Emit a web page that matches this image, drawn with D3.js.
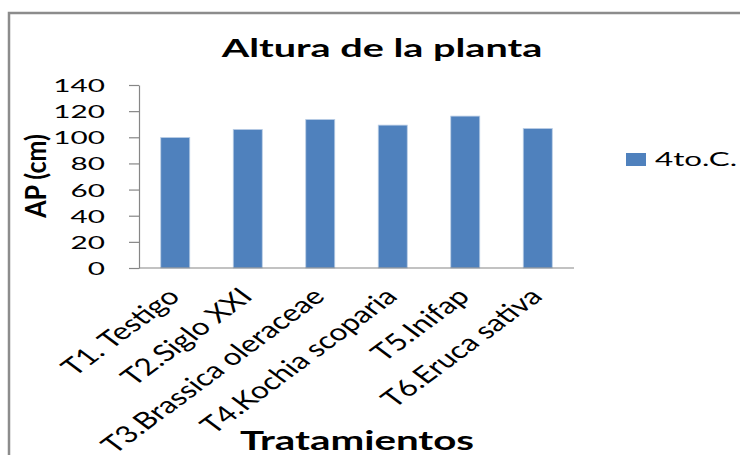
<!DOCTYPE html>
<html>
<head>
<meta charset="utf-8">
<script src="https://cdn.jsdelivr.net/npm/d3@7/dist/d3.min.js"></script>
<style>
  html, body { margin: 0; padding: 0; background: #fff; }
  text { font-family: Lato, "Open Sans", sans-serif; fill: #000; }
</style>
</head>
<body>
<svg id="chart" width="740" height="455"></svg>
<script>
// Plant height by treatment
const categories = ["T1. Testigo", "T2.Siglo XXI", "T3.Brassica oleraceae", "T4.Kochia scoparia", "T5.Inifap", "T6.Eruca sativa"];
const seriesName = "4to.C.";
const values = [99.8, 106, 113.6, 109.3, 116.2, 106.7];
const yTicks = [0, 20, 40, 60, 80, 100, 120, 140];

const W = 740, H = 455;
const SX = 1.65;              // horizontal text stretch
const SX_CAT = 1.35;          // stretch for the slanted category labels
const plot = { left: 139, right: 574, top: 85, bottom: 268 };
const barColor = "#4F81BD";
const axisColor = "#868686";

const svg = d3.select("#chart");

// chart frame (only left and top edges fall inside the view)
svg.append("rect")
  .attr("x", 9).attr("y", 13)
  .attr("width", W + 20).attr("height", H + 20)
  .attr("fill", "#fff")
  .attr("stroke", "#8c8c8c").attr("stroke-width", 2.5);

const x = d3.scaleBand()
  .domain(categories)
  .range([plot.left, plot.right])
  .paddingInner(0.6)
  .paddingOuter(0.3);

const y = d3.scaleLinear()
  .domain([0, 140])
  .range([plot.bottom, plot.top]);

// bars
svg.append("g").selectAll("rect")
  .data(values)
  .join("rect")
  .attr("x", (d, i) => x(categories[i]))
  .attr("width", x.bandwidth())
  .attr("y", d => y(d))
  .attr("height", d => y(0) - y(d))
  .attr("fill", barColor)
  .attr("stroke", "#b9cde5")
  .attr("stroke-width", 0.8);

// y axis
const yAxis = svg.append("g")
  .attr("transform", `translate(${plot.left},0)`)
  .call(d3.axisLeft(y).tickValues(yTicks).tickSize(10).tickSizeOuter(0));
yAxis.select(".domain").attr("stroke", axisColor).attr("stroke-width", 1.2);
yAxis.selectAll(".tick line").attr("stroke", axisColor).attr("stroke-width", 1.2);
yAxis.selectAll(".tick text")
  .attr("x", 0).attr("dy", "0.36em")
  .attr("text-anchor", "end")
  .attr("font-size", 18)
  .attr("fill", "#222")
  .attr("transform", `translate(-34,0) scale(${SX},1)`);

// x axis
const xAxis = svg.append("g")
  .attr("transform", `translate(0,${plot.bottom})`)
  .call(d3.axisBottom(x).tickSize(0).tickSizeOuter(0));
xAxis.select(".domain").attr("stroke", axisColor).attr("stroke-width", 1.2)
  .attr("d", `M${plot.left},0H${plot.right}`);
xAxis.selectAll(".tick text")
  .attr("x", 0).attr("y", 0).attr("dy", "0.72em")
  .attr("text-anchor", "end")
  .attr("font-size", 23.5)
  .attr("fill", "#222")
  .attr("transform", `translate(-10,18) scale(${SX_CAT},1) rotate(-45)`);

// title
svg.append("text")
  .attr("text-anchor", "middle")
  .attr("font-weight", "bold")
  .attr("font-size", 24)
  .attr("transform", `translate(382,57) scale(${SX},1)`)
  .text("Altura de la planta");

// axis titles
svg.append("text")
  .attr("text-anchor", "middle")
  .attr("font-weight", "bold")
  .attr("font-size", 26)
  .attr("transform", `translate(357,450) scale(1.55,1)`)
  .text("Tratamientos");

svg.append("text")
  .attr("text-anchor", "middle")
  .attr("font-weight", "bold")
  .attr("font-size", 25)
  .attr("transform", `translate(46,176) scale(1.15,1) rotate(-90)`)
  .text("AP (cm)");

// legend
const legend = svg.append("g").attr("transform", "translate(626,153)");
legend.append("rect")
  .attr("width", 20).attr("height", 13)
  .attr("fill", barColor);
legend.append("text")
  .attr("font-size", 19)
  .attr("fill", "#222")
  .attr("transform", `translate(29,13) scale(${SX},1)`)
  .text(seriesName);
</script>
</body>
</html>
